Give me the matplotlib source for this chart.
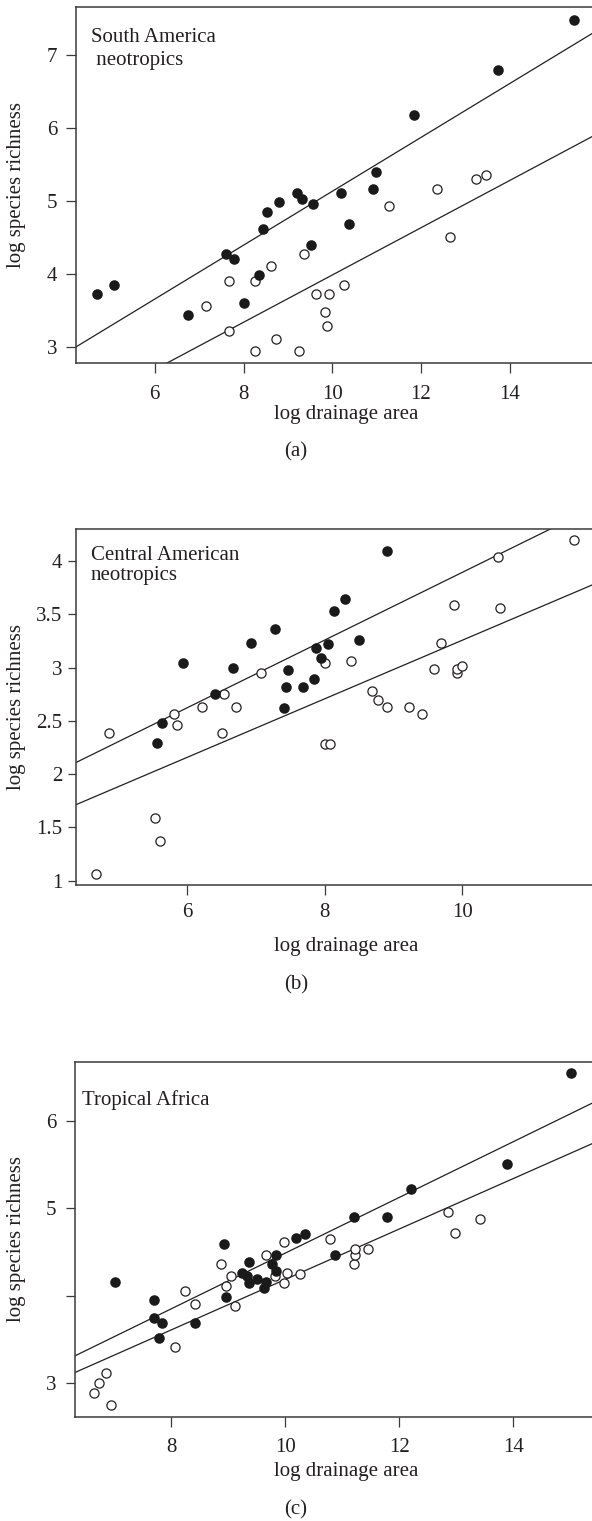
# Species richness vs drainage area, three tropical regions

import numpy as np
import matplotlib
matplotlib.use("Agg")
import matplotlib.pyplot as plt

plt.rcParams['font.family'] = ['Liberation Serif', 'DejaVu Serif']
ink = '#231f20'

# (a) South America
sa_fill_x = [4.69, 5.09, 6.75, 7.60, 7.79, 8.00, 8.36, 8.43, 8.53, 8.80, 9.20, 9.31,
             9.57, 9.52, 10.19, 10.37, 10.92, 10.98, 11.84, 13.74, 15.45]
sa_fill_y = [3.72, 3.85, 3.43, 4.27, 4.20, 3.60, 3.98, 4.62, 4.85, 4.98, 5.11, 5.02,
             4.96, 4.40, 5.11, 4.68, 5.16, 5.40, 6.17, 6.79, 7.48]
sa_open_x = [7.16, 7.67, 7.67, 8.26, 8.26, 8.63, 8.74, 9.26, 9.36, 9.63, 9.92, 9.84,
             9.89, 10.27, 11.29, 12.37, 12.66, 13.25, 13.46]
sa_open_y = [3.56, 3.90, 3.22, 3.90, 2.94, 4.11, 3.10, 2.94, 4.27, 3.72, 3.72, 3.48,
             3.28, 3.85, 4.93, 5.16, 4.51, 5.30, 5.36]
sa_fits = [(1.4375, 0.3693), (0.743, 0.324)]   # (intercept, slope)

# (b) Central America
ca_fill_x = [5.56, 5.63, 5.94, 6.40, 6.67, 6.93, 7.28, 7.47, 7.44, 7.41, 7.68, 7.84,
             7.87, 7.95, 8.04, 8.14, 8.29, 8.49, 8.91]
ca_fill_y = [2.29, 2.48, 3.04, 2.75, 3.00, 3.23, 3.36, 2.98, 2.82, 2.62, 2.82, 2.89,
             3.18, 3.09, 3.22, 3.53, 3.64, 3.26, 4.09]
ca_open_x = [4.68, 4.86, 5.53, 5.60, 5.81, 5.85, 6.21, 6.51, 6.54, 6.71, 7.07, 8.01,
             8.01, 8.08, 8.38, 8.68, 8.77, 8.91, 9.22, 9.41, 9.58, 9.69, 9.88, 9.92,
             9.92, 9.99, 10.51, 10.54, 11.62]
ca_open_y = [1.06, 2.39, 1.59, 1.37, 2.56, 2.46, 2.63, 2.39, 2.75, 2.63, 2.95, 3.04,
             2.28, 2.28, 3.06, 2.78, 2.70, 2.63, 2.63, 2.56, 2.99, 3.23, 3.59, 2.95,
             2.99, 3.01, 4.04, 3.56, 4.20]
ca_fits = [(0.714, 0.318), (0.507, 0.275)]

# (c) Tropical Africa
af_fill_x = [7.01, 7.70, 7.70, 7.84, 7.78, 8.42, 8.92, 8.96, 9.24, 9.32, 9.36, 9.36,
             9.50, 9.62, 9.66, 9.77, 9.83, 9.83, 10.19, 10.34, 10.87, 11.20, 11.78,
             12.21, 13.89, 15.02]
af_fill_y = [4.16, 3.95, 3.75, 3.69, 3.52, 3.69, 4.59, 3.99, 4.26, 4.22, 4.38, 4.15,
             4.19, 4.09, 4.16, 4.36, 4.47, 4.28, 4.66, 4.70, 4.47, 4.90, 4.90,
             5.22, 5.51, 6.55]
af_open_x = [6.65, 6.73, 6.86, 6.94, 8.07, 8.24, 8.42, 8.88, 8.96, 9.04, 9.12, 9.66,
             9.82, 9.98, 9.98, 10.03, 10.26, 10.79, 11.20, 11.22, 11.22, 11.46,
             12.85, 12.98, 13.42]
af_open_y = [2.89, 3.00, 3.12, 2.75, 3.41, 4.05, 3.91, 4.36, 4.11, 4.22, 3.88, 4.47,
             4.22, 4.61, 4.15, 4.26, 4.25, 4.65, 4.36, 4.47, 4.53, 4.53,
             4.96, 4.72, 4.88]
af_fits = [(1.307, 0.318), (1.306, 0.288)]

W, H = 592, 1521
fig = plt.figure(figsize=(W / 100, H / 100), dpi=100)


def px_text(x, y, s, ha='center', va='center', **kw):
    fig.text(x / W, 1 - y / H, s, fontsize=15, color=ink, ha=ha, va=va, **kw)


def add_panel(top, bottom, left, xlim, ylim, xticks, yticks, yticklabels,
              fill_x, fill_y, open_x, open_y, fits, ypad, xpad, ylen):
    # axes run slightly past the right edge of the canvas, so no right frame shows
    ax = fig.add_axes([left / W, 1 - bottom / H, (594 - left) / W, (bottom - top) / H])
    ax.set_xlim(xlim)
    ax.set_ylim(ylim)
    xs = np.array(xlim)
    for a, b in fits:
        ax.plot(xs, a + b * xs, color=ink, lw=0.9)
    ax.plot(open_x, open_y, 'o', ms=6.6, mfc='white', mec=ink, mew=0.9)
    ax.plot(fill_x, fill_y, 'o', ms=7.6, mfc='#1a1a1a', mec='#1a1a1a', mew=0)
    ax.set_xticks(xticks)
    ax.set_yticks(yticks)
    ax.set_yticklabels(yticklabels)
    ax.tick_params(axis='x', direction='out', length=7, width=0.9, color='#3a3a3a',
                   labelsize=15, labelcolor=ink, pad=xpad)
    ax.tick_params(axis='y', direction='out', length=ylen, width=0.9, color='#3a3a3a',
                   labelsize=15, labelcolor=ink, pad=ypad)
    for s in ['left', 'bottom', 'top']:
        ax.spines[s].set_linewidth(1.1)
        ax.spines[s].set_color('#3a3a3a')
    ax.spines['right'].set_visible(False)
    return ax


ax_a = add_panel(7.3, 362.7, 76.3, (4.231, 15.90), (2.781, 7.653),
                 [6, 8, 10, 12, 14], [3, 4, 5, 6, 7], ['3', '4', '5', '6', '7'],
                 sa_fill_x, sa_fill_y, sa_open_x, sa_open_y, sa_fits, 6.8, 9.0, 7)
ax_b = add_panel(529.3, 884.7, 76.3, (4.391, 11.91), (0.9625, 4.297),
                 [6, 8, 10], [1, 1.5, 2, 2.5, 3, 3.5, 4],
                 ['1', '1.5', '2', '2.5', '3', '3.5', '4'],
                 ca_fill_x, ca_fill_y, ca_open_x, ca_open_y, ca_fits, 4.0, 6.0, 6)
ax_c = add_panel(1061.7, 1417.3, 75.0, (6.309, 15.42), (2.611, 6.674),
                 [8, 10, 12, 14], [3, 4, 5, 6], ['3', '', '5', '6'],
                 af_fill_x, af_fill_y, af_open_x, af_open_y, af_fits, 6.8, 7.6, 6.5)

# region names inside the frames
px_text(90.7, 28, "South America\n neotropics", ha='left', va='top', linespacing=1.3)
px_text(90.7, 546, "Central American\nneotropics", ha='left', va='top', linespacing=1.1)
px_text(82.3, 1090, "Tropical Africa", ha='left', va='top')

# axis titles and panel letters
for yc, yx, yl, yp in [(185, 415, 451.7, '(a)'), (707, 946.7, 985, '(b)'),
                       (1239, 1471.7, 1510, '(c)')]:
    px_text(17, yc, "log species richness", rotation=90)
    px_text(346, yx, "log drainage area")
    px_text(296, yl, yp)

fig.savefig("out.png", dpi=100)
